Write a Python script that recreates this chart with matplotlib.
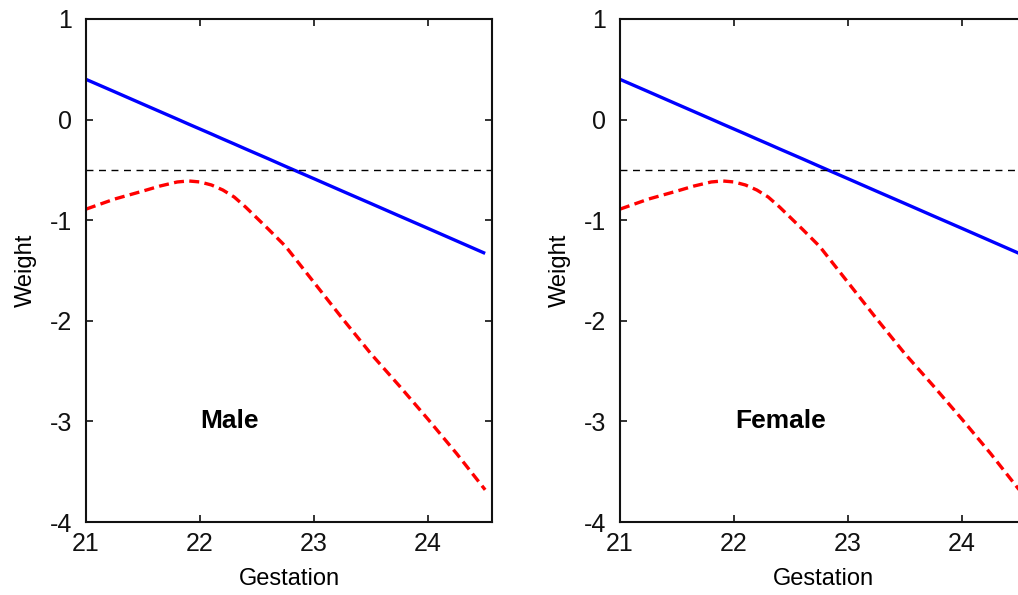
import numpy as np
import matplotlib
matplotlib.use("Agg")
import matplotlib.pyplot as plt

plt.rcParams['font.family'] = ['Liberation Sans', 'DejaVu Sans']
plt.rcParams['axes.unicode_minus'] = False

# data (both panels look the same)
gestation = [21.0, 21.25, 21.5, 21.65, 21.8, 21.9, 22.0, 22.1, 22.2, 22.3,
             22.4, 22.5, 22.6, 22.75, 23.0, 23.25, 23.5, 23.75, 24.0, 24.25, 24.5]
male_blue = [0.40, 0.277, 0.153, 0.079, 0.005, -0.045, -0.094, -0.143, -0.193, -0.242,
             -0.292, -0.341, -0.39, -0.465, -0.588, -0.712, -0.835, -0.959, -1.082, -1.206, -1.33]
male_red = [-0.89, -0.79, -0.71, -0.66, -0.62, -0.61, -0.62, -0.65, -0.70, -0.77,
            -0.87, -0.98, -1.09, -1.26, -1.62, -1.98, -2.33, -2.65, -2.98, -3.32, -3.68]
female_blue = [0.40, 0.277, 0.153, 0.079, 0.005, -0.045, -0.094, -0.143, -0.193, -0.242,
               -0.292, -0.341, -0.39, -0.465, -0.588, -0.712, -0.835, -0.959, -1.082, -1.206, -1.33]
female_red = [-0.89, -0.79, -0.71, -0.66, -0.62, -0.61, -0.62, -0.65, -0.70, -0.77,
              -0.87, -0.98, -1.09, -1.26, -1.62, -1.98, -2.33, -2.65, -2.98, -3.32, -3.68]
threshold = -0.5
x_ticks = [21, 22, 23, 24]
y_ticks = [-4, -3, -2, -1, 0, 1]


def draw_panel(ax, blue, red, label, label_x):
    ax.plot(gestation, blue, color='#0000ff', lw=2.4, solid_capstyle='butt')
    ax.plot(gestation, red, color='#ff0000', lw=2.4, ls=(0, (3.0, 1.6)))
    ax.axhline(threshold, color='black', lw=1.0, ls=(0, (5, 4)))
    ax.text(label_x, -3, label, fontsize=19, fontweight='bold',
            ha='center', va='center')
    ax.set_xlim(21, 24.56)
    ax.set_ylim(-4, 1)
    ax.set_xticks(x_ticks)
    ax.set_yticks(y_ticks)
    ax.tick_params(direction='in', length=5, width=1.2, top=True, right=True,
                   labelsize=18, colors='#111111')
    ax.tick_params(axis='y', pad=10)
    ax.tick_params(axis='x', pad=7)
    for s in ax.spines.values():
        s.set_linewidth(1.5)
        s.set_color('#111111')
    ax.set_xlabel('Gestation', fontsize=17)
    ax.set_ylabel('Weight', fontsize=17)
    ax.xaxis.set_label_coords(0.5, -0.092)
    ax.yaxis.set_label_coords(-0.122, 0.5)


fig = plt.figure(figsize=(10.18, 5.95), dpi=100)
ax1 = fig.add_axes([86 / 1018, 1 - 522 / 595, 406 / 1018, 503 / 595])
ax2 = fig.add_axes([620 / 1018, 1 - 522 / 595, 406 / 1018, 503 / 595])

draw_panel(ax1, male_blue, male_red, 'Male', 22.26)
draw_panel(ax2, female_blue, female_red, 'Female', 22.41)

fig.savefig('out.png', dpi=100)
